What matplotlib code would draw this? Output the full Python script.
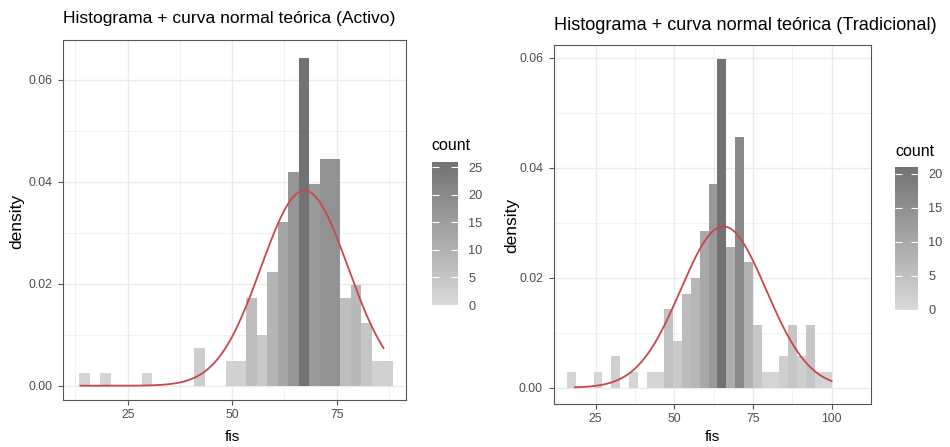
import numpy as np
import matplotlib
matplotlib.use("Agg")
import matplotlib.pyplot as plt
from matplotlib.colors import LinearSegmentedColormap, Normalize
from matplotlib.cm import ScalarMappable

# ---- data ----
# Activo: 30 bins, width 2.5, first edge at 13.4
activo_start = 13.4
activo_width = 2.5
activo_counts = [1, 0, 1, 0, 0, 0, 1, 0, 0, 0,
                 0, 3, 0, 0, 2, 2, 7, 4, 9, 13,
                 17, 26, 16, 18, 18, 7, 8, 5, 2, 2]
activo_mean = 67.3
activo_sd = 10.42
activo_range = (13.7, 86.2)

# Tradicional: 30 bins, width 2.81, first edge at 15.94
trad_start = 15.94
trad_width = 2.81
trad_counts = [1, 0, 0, 1, 0, 2, 0, 1, 0, 1,
               1, 5, 3, 6, 7, 10, 13, 21, 9, 16,
               8, 4, 1, 1, 2, 4, 2, 4, 1, 1]
trad_mean = 65.6
trad_sd = 13.6
trad_range = (18.4, 100.0)

titles = ["Histograma + curva normal teórica (Activo)",
          "Histograma + curva normal teórica (Tradicional)"]
x_ticks = [[25, 50, 75], [25, 50, 75, 100]]
y_ticks = [0.00, 0.02, 0.04, 0.06]

plt.rcParams['font.family'] = ['Liberation Sans', 'DejaVu Sans']

W, H = 950, 447
fig = plt.figure(figsize=(9.5, 4.47), dpi=100)

def fx(px):
    return px / W

def fy(py):
    return 1 - py / H

grey_cmap = LinearSegmentedColormap.from_list("greys", ["#d9d9d9", "#727272"])
tick_col = "#4d4d4d"
grid_col = "#ebebeb"
frame_col = "#555555"

# pixel boxes: left, right, top, bottom ; axis limits
panels = [
    dict(start=activo_start, width=activo_width, counts=activo_counts,
         mean=activo_mean, sd=activo_sd, rng=activo_range,
         box=(63.3, 406, 40, 400), xlim=(9.59, 91.58), ylim=(-0.0028, 0.0678),
         cbar=(431.7, 458.3, 161.7, 305), ctitle=(431.7, 145),
         title=(63.3, 18, 12.6), ylab=(17, 221), xlab=(232, 437)),
    dict(start=trad_start, width=trad_width, counts=trad_counts,
         mean=trad_mean, sd=trad_sd, rng=trad_range,
         box=(553.8, 871, 45, 404), xlim=(11.71, 104.38), ylim=(-0.00296, 0.0623),
         cbar=(895, 918.3, 166.7, 310), ctitle=(895, 151.7),
         title=(553.8, 25, 13.1), ylab=(512, 225), xlab=(712, 437)),
]

for i, p in enumerate(panels):
    l, r, t, b = p['box']
    ax = fig.add_axes([fx(l), fy(b), (r - l) / W, (b - t) / H])

    counts = np.array(p['counts'])
    edges = p['start'] + p['width'] * np.arange(len(counts) + 1)
    density = counts / (counts.sum() * p['width'])
    norm = Normalize(0, counts.max())
    keep = counts > 0
    ax.bar(edges[:-1][keep], density[keep], width=p['width'], align='edge',
           color=grey_cmap(norm(counts[keep])), linewidth=0, zorder=2)

    xs = np.linspace(p['rng'][0], p['rng'][1], 300)
    ys = np.exp(-0.5 * ((xs - p['mean']) / p['sd']) ** 2) / (p['sd'] * np.sqrt(2 * np.pi))
    ax.plot(xs, ys, color="#c8474b", lw=1.3, zorder=3)

    ax.set_xlim(p['xlim'])
    ax.set_ylim(p['ylim'])
    ax.set_xticks(x_ticks[i])
    ax.set_yticks(y_ticks)
    ax.set_yticklabels(["%.2f" % v for v in y_ticks])
    minor_x = [v - 12.5 for v in x_ticks[i]] + [x_ticks[i][-1] + 12.5]
    ax.set_xticks(minor_x, minor=True)
    ax.set_yticks([0.01, 0.03, 0.05], minor=True)
    ax.grid(True, which='major', color=grid_col, lw=1.0, zorder=0)
    ax.grid(True, which='minor', color=grid_col, lw=0.5, zorder=0)
    ax.set_axisbelow(True)
    ax.tick_params(which='minor', length=0)
    ax.tick_params(which='major', length=3.3, width=0.8, color=frame_col,
                   labelcolor=tick_col, labelsize=8.8)
    ax.tick_params(axis='y', pad=4.5)
    ax.tick_params(axis='x', pad=3.5)
    for s in ax.spines.values():
        s.set_color(frame_col)
        s.set_linewidth(0.8)

    tx, ty, ts = p['title']
    fig.text(fx(tx), fy(ty), titles[i], ha='left', va='center', fontsize=ts, color='black')
    fig.text(fx(p['ylab'][0]), fy(p['ylab'][1]), "density", rotation=90,
             ha='center', va='center', fontsize=12.5)
    fig.text(fx(p['xlab'][0]), fy(p['xlab'][1]), "fis", ha='center', va='center', fontsize=11)

    # colour bar legend
    cl, cr, ct, cb = p['cbar']
    cax = fig.add_axes([fx(cl), fy(cb), (cr - cl) / W, (cb - ct) / H])
    cbar = fig.colorbar(ScalarMappable(norm=norm, cmap=grey_cmap), cax=cax)
    cbar.outline.set_visible(False)
    cbar.set_ticks(np.arange(0, counts.max() + 1, 5))
    cax.tick_params(axis='y', left=True, right=True, direction='in', length=5,
                    width=0.8, color='white', labelcolor=tick_col, labelsize=9.2, pad=7)
    fig.text(fx(p['ctitle'][0]), fy(p['ctitle'][1]), "count", ha='left', va='center',
             fontsize=11.5)

fig.savefig("out.png", dpi=100)
